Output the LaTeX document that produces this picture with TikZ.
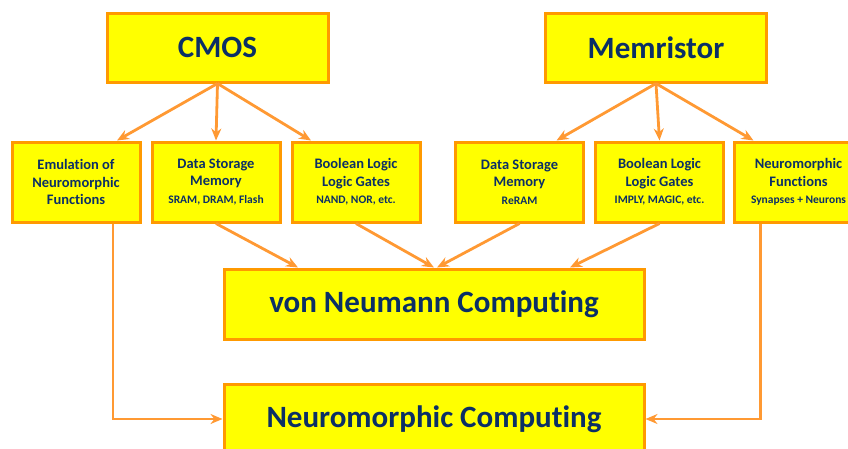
\documentclass[tikz,border=0pt]{standalone}
\usepackage{fontspec}
\setmainfont{Carlito}[Ligatures=NoCommon]
\usetikzlibrary{arrows.meta}
\usetikzlibrary{positioning}
\definecolor{boxfill}{HTML}{FFFF00}
\definecolor{boxline}{HTML}{FF9900}
\definecolor{arrowline}{HTML}{FF9933}
\definecolor{textblue}{HTML}{0B2F66}
\newcommand{\subline}[1]{{\fontsize{11.5}{17.5}\selectfont #1}}

\begin{document}
\begin{tikzpicture}[x=1pt,y=-1pt,->,>={Stealth[length=12pt,width=10pt]},
		line width=2.8pt,color=arrowline]
		\tikzstyle{bigbox}=[draw=boxline,fill=boxfill,line width=3pt,text=textblue,
			minimum width=221pt,minimum height=69pt,font=\bfseries\fontsize{31}{35}\selectfont]
		\tikzstyle{smallbox}=[draw=boxline,fill=boxfill,line width=3pt,text=textblue,align=center,
			minimum width=128pt,minimum height=80pt,font=\bfseries\fontsize{14.5}{17.5}\selectfont]
		\tikzstyle{widebox}=[draw=boxline,fill=boxfill,line width=3pt,text=textblue,
			minimum width=420pt,minimum height=70pt,font=\bfseries\fontsize{31}{35}\selectfont]
		
		\clip (0,0) rectangle (848,448);
		
		\node[bigbox]   (cmos)   at (217.5,47.5) {CMOS};
		\node[bigbox]   (memr)   at (656,47.5)   {Memristor};
		
		\node[smallbox] (emul)   at (76,182)     {Emulation of\\Neuromorphic\\Functions};
		\node[smallbox] (dscmos) [right=9pt of emul]   {Data Storage\\Memory\\\subline{SRAM, DRAM, Flash}};
		\node[smallbox] (blcmos) [right=9pt of dscmos] {Boolean Logic\\Logic Gates\\\subline{NAND, NOR, etc.}};
		\node[smallbox] (dsmem)  at (519.5,182)  {Data Storage\\Memory\\\subline{ReRAM}};
		\node[smallbox] (blmem)  [right=9pt of dsmem]  {Boolean Logic\\Logic Gates\\\subline{IMPLY, MAGIC, etc.}};
		\node[smallbox] (neuf)   [right=8pt of blmem]  {Neuromorphic\\Functions\\\subline{Synapses + Neurons}};
		
		\node[widebox]  (vonn)   at (434,304)    {von Neumann Computing};
		\node[widebox]  (neuc)   at (434,419)    {Neuromorphic Computing};
		
		\path (cmos.south) edge ([xshift=41pt]emul.north)
		      (cmos.south) edge (dscmos.north)
		      (cmos.south) edge ([xshift=-45pt]blcmos.north)
		      (memr.south) edge ([xshift=37pt]dsmem.north)
		      (memr.south) edge (blmem.north)
		      (memr.south) edge ([xshift=-45pt]neuf.north);
		
		\path (dscmos.south) edge ([xshift=-136pt]vonn.north)
		      (blcmos.south) edge (vonn.north)
		      (dsmem.south)  edge ([xshift=3pt]vonn.north)
		      (blmem.south)  edge ([xshift=136pt]vonn.north);
		
		\draw ([xshift=37pt]emul.south) |- (neuc.west);
		\draw ([xshift=-38pt]neuf.south) |- (neuc.east);
\end{tikzpicture}
\end{document}
